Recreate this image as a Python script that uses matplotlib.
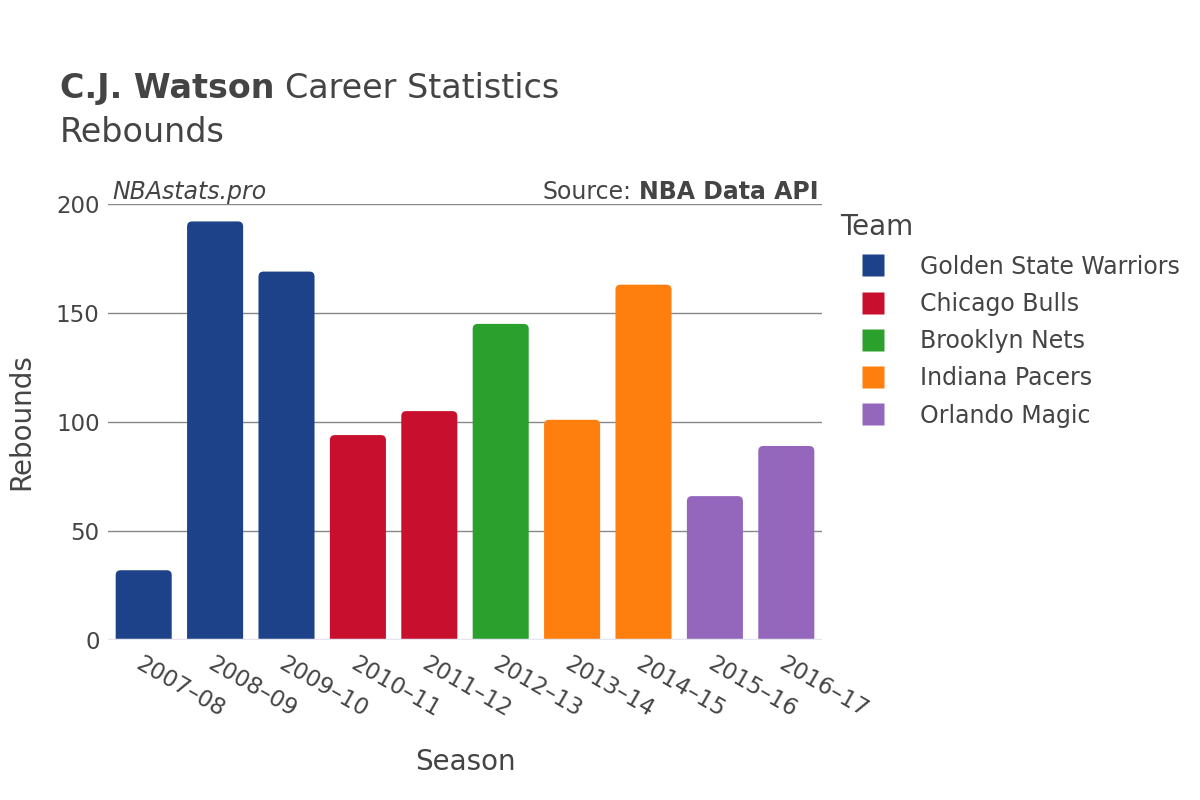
import matplotlib.pyplot as plt
from matplotlib.patches import FancyBboxPatch
from matplotlib.lines import Line2D

# data
seasons = ['2007–08', '2008–09', '2009–10', '2010–11', '2011–12',
           '2012–13', '2013–14', '2014–15', '2015–16', '2016–17']
rebounds = [32, 192, 169, 94, 105, 145, 101, 163, 66, 89]
teams = ['Golden State Warriors', 'Golden State Warriors', 'Golden State Warriors',
         'Chicago Bulls', 'Chicago Bulls', 'Brooklyn Nets', 'Indiana Pacers',
         'Indiana Pacers', 'Orlando Magic', 'Orlando Magic']
team_order = ['Golden State Warriors', 'Chicago Bulls', 'Brooklyn Nets',
              'Indiana Pacers', 'Orlando Magic']
team_colors = {
    'Golden State Warriors': '#1d428a',
    'Chicago Bulls': '#c8102e',
    'Brooklyn Nets': '#2ca02c',
    'Indiana Pacers': '#ff7f0e',
    'Orlando Magic': '#9467bd',
}

text_col = '#444444'
plt.rcParams['font.family'] = ['DejaVu Sans']

fig = plt.figure(figsize=(12, 8), dpi=100)
ax = fig.add_axes([0.09, 0.2, 0.595, 0.545])

x = list(range(len(seasons)))
bars = ax.bar(x, rebounds, width=0.785, color=[team_colors[t] for t in teams])

# swap the plain bars for ones with rounded corners
ax.set_xlim(-0.5, len(seasons) - 0.5)
ax.set_ylim(0, 200)
px_x = len(seasons) / (0.595 * 1200)
px_y = 200 / (0.545 * 800)
for b in bars:
    b.set_visible(False)
    fb = FancyBboxPatch((b.get_x(), -10), b.get_width(), b.get_height() + 10,
                        boxstyle='round,pad=0,rounding_size=%f' % (5 * px_x),
                        mutation_aspect=px_y / px_x,
                        facecolor=b.get_facecolor(), edgecolor='none', zorder=3)
    ax.add_patch(fb)

ax.set_yticks([0, 50, 100, 150, 200])
ax.grid(axis='y', color='#888888', linewidth=1)
ax.set_axisbelow(True)
ax.axhline(0, color='#e6e6f0', linewidth=2.5, zorder=4)
for s in ax.spines.values():
    s.set_visible(False)
ax.tick_params(axis='both', length=0, labelsize=16.5, colors=text_col, pad=6)
ax.set_xticks(x)
ax.set_xticklabels(seasons, rotation=-30, ha='left', rotation_mode='anchor')
ax.tick_params(axis='x', pad=9)

ax.set_xlabel('Season', fontsize=20, color=text_col, labelpad=19)
ax.set_ylabel('Rebounds', fontsize=20, color=text_col, labelpad=15)

# titles: bold name followed by regular text
fig.canvas.draw()
r = fig.canvas.get_renderer()
t1 = fig.text(0.05, 0.889, 'C.J. Watson', fontsize=24, fontweight='bold',
              color=text_col, va='center')
w1 = t1.get_window_extent(r).width / 1200
fig.text(0.05 + w1 + 0.009, 0.889, 'Career Statistics', fontsize=24,
         color=text_col, va='center')
fig.text(0.05, 0.835, 'Rebounds', fontsize=24, color=text_col, va='center')

fig.text(0.094, 0.76, 'NBAstats.pro', fontsize=17, style='italic',
         color=text_col, va='center')
t2 = fig.text(0.682, 0.76, 'NBA Data API', fontsize=17, fontweight='bold',
              color=text_col, va='center', ha='right')
w2 = t2.get_window_extent(r).width / 1200
fig.text(0.682 - w2 - 0.006, 0.76, 'Source:', fontsize=17, color=text_col,
         va='center', ha='right')

# legend
handles = [Line2D([], [], marker='s', linestyle='none', markersize=16,
                  markerfacecolor=team_colors[t], markeredgecolor='none')
           for t in team_order]
leg = fig.legend(handles, team_order, title='Team', loc='upper left',
                 bbox_to_anchor=(0.692, 0.745), frameon=False, fontsize=17,
                 title_fontsize=20, labelcolor=text_col, handletextpad=0.6,
                 handlelength=2.8, labelspacing=0.56, borderaxespad=0)
leg.get_title().set_color(text_col)
leg._legend_box.align = 'left'

fig.savefig('out.png', dpi=100)
